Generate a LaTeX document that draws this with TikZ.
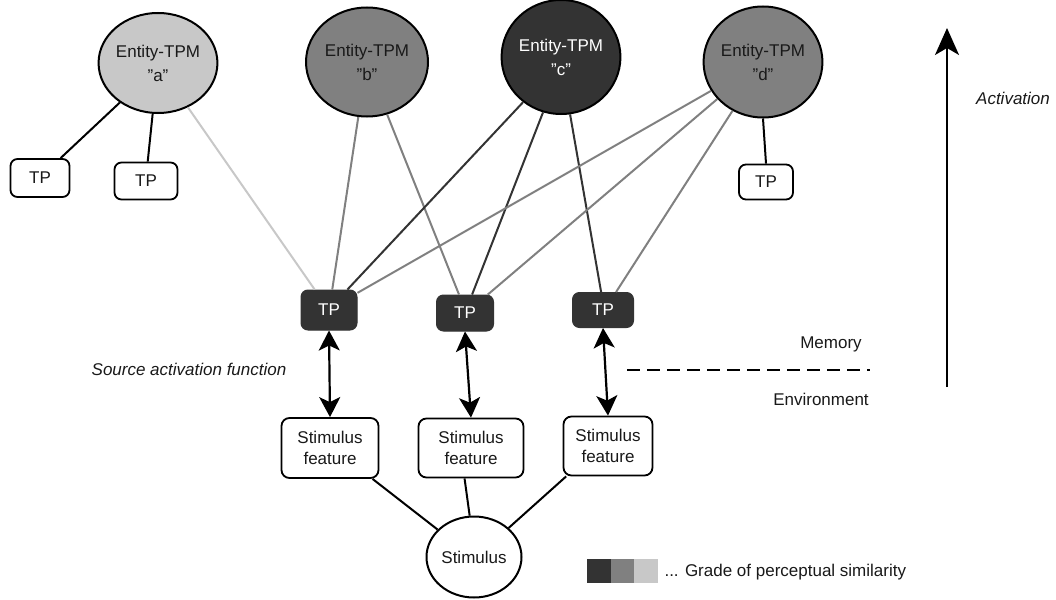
\documentclass[tikz,border=0pt]{standalone}
\usepackage{fontspec}
\setmainfont{Liberation Sans}
\usetikzlibrary{shapes.geometric,arrows.meta}
\definecolor{simhigh}{HTML}{333333}
\definecolor{simmid}{HTML}{808080}
\definecolor{simlow}{HTML}{C8C8C8}
\newcommand{\qq}[1]{\symbol{34}#1\symbol{34}}
\begin{document}
\begin{tikzpicture}[x=1pt,y=-1pt,
  every node/.style={font=\fontsize{17}{21}\selectfont, align=center, text=black!90},
  entity/.style={ellipse, draw=black, line width=2pt, inner sep=0pt, font=\fontsize{17}{24}\selectfont},
  tpbox/.style={rectangle, rounded corners=7pt, draw=black, line width=1.8pt, fill=white, inner sep=0pt},
  tpdark/.style={rectangle, rounded corners=7pt, draw=simhigh, line width=1pt, fill=simhigh, text=white, inner sep=0pt},
  featbox/.style={rectangle, rounded corners=8pt, draw=black, line width=1.8pt, fill=white, inner sep=0pt},
  link/.style={line width=2pt},
  twoway/.style={line width=2.2pt, {Stealth[length=20pt,width=21pt,inset=5pt]}-{Stealth[length=20pt,width=21pt,inset=5pt]}},
  swatch/.style={rectangle, minimum width=24pt, minimum height=24pt, inner sep=0pt},
  note/.style={font=\fontsize{17}{21}\selectfont\itshape},
]
\useasboundingbox (0,0) rectangle (1056,599);

% entity nodes
\node[entity, fill=simlow,  minimum width=118pt, minimum height=100pt] (ea) at (158,63) {Entity-TPM\\\qq{a}};
\node[entity, fill=simmid,  minimum width=122pt, minimum height=109pt] (eb) at (367,62) {Entity-TPM\\\qq{b}};
\node[entity, fill=simhigh, minimum width=116pt, minimum height=114pt, text=white] (ec) at (561,57) {Entity-TPM\\\qq{c}};
\node[entity, fill=simmid,  minimum width=114pt, minimum height=111pt] (ed) at (763,62) {Entity-TPM\\\qq{d}};

% attached TPs
\node[tpbox, minimum width=59pt, minimum height=38pt] (ta1) at (40,178) {TP};
\node[tpbox, minimum width=63pt, minimum height=37pt] (ta2) at (146,181) {TP};
\node[tpbox, minimum width=54pt, minimum height=35pt] (td1) at (766,182) {TP};

% activated TPs
\node[tpdark, minimum width=56pt, minimum height=40pt] (tp1) at (329,310) {TP};
\node[tpdark, minimum width=57pt, minimum height=36pt] (tp2) at (465,313) {TP};
\node[tpdark, minimum width=61pt, minimum height=35pt] (tp3) at (603,310) {TP};

% stimulus features and stimulus
\node[featbox, minimum width=97pt, minimum height=60pt] (sf1) at (330,448) {Stimulus\\feature};
\node[featbox, minimum width=105pt, minimum height=59pt] (sf2) at (471,448) {Stimulus\\feature};
\node[featbox, minimum width=89pt, minimum height=59pt] (sf3) at (608,446) {Stimulus\\feature};
\node[entity, fill=white, minimum width=95pt, minimum height=81pt] (st) at (474,557) {Stimulus};

% entity to own TPs
\draw[link] (ea.-134) -- (ta1.44);
\draw[link] (ea.-96) -- (ta2.85);
\draw[link] (ed.-90) -- (td1.north);

% entity to activated TPs
\draw[link, simlow] (ea.-56) -- (tp1.125);
\draw[link, simmid] (eb.-99) -- (tp1.81);
\draw[link, simmid] (eb.-69) -- (tp2.108);
\draw[link, simhigh] (ec.-130) -- (tp1.48);
\draw[link, simhigh] (ec.-108) -- (tp2.69);
\draw[link, simhigh] (ec.-81) -- (tp3.96);
\draw[link, simmid] (ed.-151) -- (tp1.31);
\draw[link, simmid] (ed.-141) -- (tp2.39);
\draw[link, simmid] (ed.-122) -- (tp3.54);

% source activation
\draw[twoway] (tp1.south) -- (sf1.north);
\draw[twoway] (tp2.south) -- (sf2.north);
\draw[twoway] (tp3.south) -- (sf3.north);

% features to stimulus
\draw[link] (sf1.-36) -- (st.143);
\draw[link] (sf2.-102) -- (st.96);
\draw[link] (sf3.-144) -- (st.40);

% labels
\node[note] (saf) at (189,369) {Source activation function};
\node (mem) at (831,344) {Memory};
\node (env) at (821,399) {Environment};
\coordinate (bl) at (625,370);
\coordinate (br) at (870,370);
\draw[line width=2pt, dash pattern=on 13pt off 7pt, dash phase=18pt] (bl) -- (br);

% activation axis
\coordinate (ab) at (947,387);
\coordinate (at) at (947,28);
\draw[line width=2pt, -{Stealth[length=27pt,width=24pt,inset=7pt]}] (ab) -- (at);
\node[note] (act) at (1013,98) {Activation};

% legend
\node[swatch, fill=simhigh] (lg1) at (599,571) {};
\node[swatch, fill=simmid] (lg2) at (623,571) {};
\node[swatch, fill=simlow] (lg3) at (646,571) {};
\node[anchor=west] (lgt) at (661,572) {... Grade of perceptual similarity};
\end{tikzpicture}
\end{document}
